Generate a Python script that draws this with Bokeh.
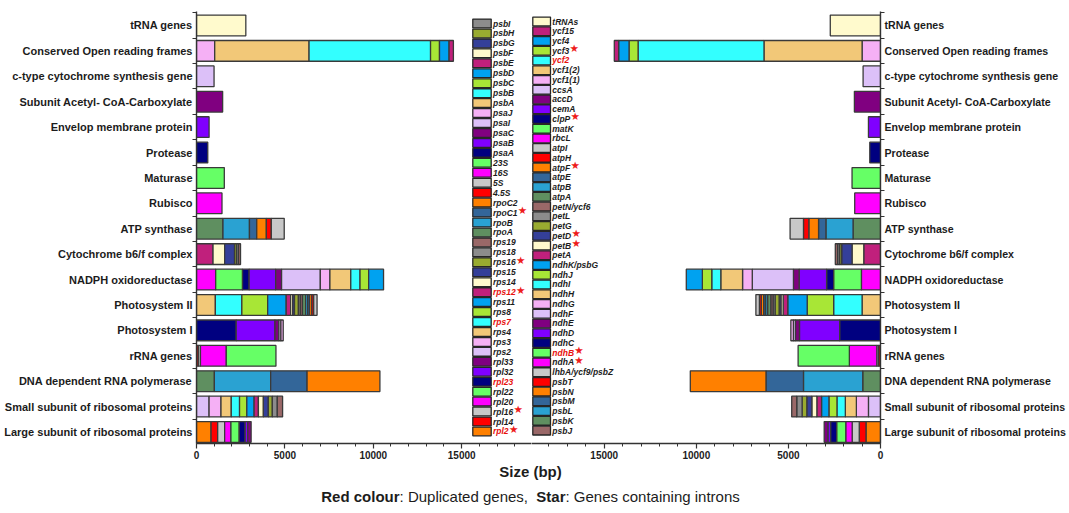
from bokeh.plotting import figure
from bokeh.layouts import column, row
from bokeh.models import Range1d, FixedTicker, ColumnDataSource
from bokeh.core.properties import value
from bokeh.embed import file_html
from bokeh.resources import INLINE

# ---------------------------------------------------------------- data
CATEGORIES = [
    "tRNA genes", "Conserved Open reading frames", "c-type cytochrome synthesis gene",
    "Subunit Acetyl- CoA-Carboxylate", "Envelop membrane protein", "Protease", "Maturase",
    "Rubisco", "ATP synthase", "Cytochrome b6/f complex", "NADPH oxidoreductase",
    "Photosystem II", "Photosystem I", "rRNA genes", "DNA dependent RNA polymerase",
    "Small subunit of ribosomal proteins", "Large subunit of ribosomal proteins",
]

# gene sizes (bp): *_LEFT = left genome, *_RIGHT = right genome
TRNA_GENES = ["tRNAs"]
TRNA_LEFT = [2790]
TRNA_RIGHT = [2727]

ORF_GENES = ["ycf1(1)", "ycf1(2)", "ycf2", "ycf3", "ycf4", "ycf15"]
ORF_LEFT = [1030, 5337, 6873, 506, 543, 243]
ORF_RIGHT = [1000, 5327, 6836, 491, 564, 236]

CCS_GENES = ["ccsA"]
CCS_LEFT = [993]
CCS_RIGHT = [945]

ACC_GENES = ["accD"]
ACC_LEFT = [1479]
ACC_RIGHT = [1418]

CEM_GENES = ["cemA"]
CEM_LEFT = [712]
CEM_RIGHT = [655]

CLP_GENES = ["clpP"]
CLP_LEFT = [637]
CLP_RIGHT = [582]

MAT_GENES = ["matK"]
MAT_LEFT = [1573]
MAT_RIGHT = [1545]

RBC_GENES = ["rbcL"]
RBC_LEFT = [1442]
RBC_RIGHT = [1400]

ATP_GENES = ["atpA", "atpB", "atpE", "atpF", "atpH", "atpI"]
ATP_LEFT = [1498, 1498, 412, 543, 281, 730]
ATP_RIGHT = [1491, 1473, 400, 527, 291, 727]

PET_GENES = ["petA", "petB", "petD", "petG", "petL", "petN/ycf6"]
PET_LEFT = [936, 655, 562, 110, 110, 117]
PET_RIGHT = [909, 636, 564, 110, 110, 125]

NDH_GENES = ["ndhA", "ndhB", "ndhC", "ndhD", "ndhE", "ndhF", "ndhG", "ndhH",
             "ndhI", "ndhJ", "ndhK/psbG"]
NDH_LEFT = [1086, 1517, 375, 1498, 337, 2191, 543, 1180, 524, 487, 843]
NDH_RIGHT = [1036, 1509, 382, 1491, 309, 2236, 527, 1182, 491, 509, 873]

PS2_GENES = ["psbA", "psbB", "psbC", "psbD", "psbE", "psbF", "psbG", "psbH", "psbI",
             "psbJ", "psbK", "psbL", "psbM", "psbN", "psbT", "lhbA/ycf9/psbZ"]
PS2_LEFT = [1067, 1498, 1461, 1049, 250, 120, 100, 220, 110, 120, 180, 115, 105, 130, 105, 190]
PS2_RIGHT = [1000, 1545, 1436, 1055, 250, 120, 100, 220, 110, 120, 175, 110, 105, 130, 100, 190]

PS1_GENES = ["psaA", "psaB", "psaC", "psaI", "psaJ"]
PS1_LEFT = [2247, 2191, 225, 112, 131]
PS1_RIGHT = [2218, 2182, 218, 110, 140]

RRNA_GENES = ["4.5S", "5S", "16S", "23S"]
RRNA_LEFT = [103, 121, 1461, 2809]
RRNA_RIGHT = [100, 100, 1491, 2782]

RPO_GENES = ["rpoA", "rpoB", "rpoC1", "rpoC2"]
RPO_LEFT = [1011, 3184, 2060, 4120]
RPO_RIGHT = [964, 3218, 2036, 4109]

RPS_GENES = ["rps2", "rps3", "rps4", "rps7", "rps8", "rps11", "rps12", "rps14",
             "rps15", "rps16", "rps18", "rps19"]
RPS_LEFT = [712, 674, 581, 468, 412, 412, 243, 281, 281, 225, 281, 300]
RPS_RIGHT = [655, 655, 600, 455, 436, 400, 255, 273, 273, 255, 291, 273]

RPL_GENES = ["rpl2", "rpl14", "rpl16", "rpl20", "rpl22", "rpl23", "rpl32", "rpl33"]
RPL_LEFT = [824, 375, 393, 356, 468, 337, 150, 187]
RPL_RIGHT = [788, 366, 385, 348, 494, 330, 146, 200]

# legend columns, top to bottom
LEGEND_LEFT = ["psbI", "psbH", "psbG", "psbF", "psbE", "psbD", "psbC", "psbB", "psbA",
               "psaJ", "psaI", "psaC", "psaB", "psaA", "23S", "16S", "5S", "4.5S",
               "rpoC2", "rpoC1", "rpoB", "rpoA", "rps19", "rps18", "rps16", "rps15",
               "rps14", "rps12", "rps11", "rps8", "rps7", "rps4", "rps3", "rps2",
               "rpl33", "rpl32", "rpl23", "rpl22", "rpl20", "rpl16", "rpl14", "rpl2"]
LEGEND_RIGHT = ["tRNAs", "ycf15", "ycf4", "ycf3", "ycf2", "ycf1(2)", "ycf1(1)", "ccsA",
                "accD", "cemA", "clpP", "matK", "rbcL", "atpI", "atpH", "atpF", "atpE",
                "atpB", "atpA", "petN/ycf6", "petL", "petG", "petD", "petB", "petA",
                "ndhK/psbG", "ndhJ", "ndhI", "ndhH", "ndhG", "ndhF", "ndhE", "ndhD",
                "ndhC", "ndhB", "ndhA", "lhbA/ycf9/psbZ", "psbT", "psbN", "psbM",
                "psbL", "psbK", "psbJ"]
DUPLICATED = ["ycf2", "ndhB", "rps12", "rps7", "rpl23", "rpl2"]
WITH_INTRONS = ["ycf3", "clpP", "atpF", "petD", "petB", "ndhB", "ndhA", "rpoC1",
                "rps16", "rps12", "rpl16", "rpl2"]

# ---------------------------------------------------------------- styling
PALETTE = ["#ff8000", "#ff0000", "#c8c8c8", "#ff00ff", "#66ff66", "#000080", "#8000ff",
           "#800080", "#dcc0f8", "#f5b0f5", "#f2c878", "#33ffff", "#a8e636", "#00a2f0",
           "#c0207c", "#fffacd", "#343f99", "#99ab30", "#8c8c8c", "#9a6868", "#5f8f60",
           "#2aa2d2", "#336699"]
SERIES = LEGEND_LEFT[::-1] + LEGEND_RIGHT[::-1]
GENE_COLOR = {g: PALETTE[i % len(PALETTE)] for i, g in enumerate(SERIES)}

STACKS = [
    (TRNA_GENES, TRNA_LEFT, TRNA_RIGHT), (ORF_GENES, ORF_LEFT, ORF_RIGHT),
    (CCS_GENES, CCS_LEFT, CCS_RIGHT), (ACC_GENES, ACC_LEFT, ACC_RIGHT),
    (CEM_GENES, CEM_LEFT, CEM_RIGHT), (CLP_GENES, CLP_LEFT, CLP_RIGHT),
    (MAT_GENES, MAT_LEFT, MAT_RIGHT), (RBC_GENES, RBC_LEFT, RBC_RIGHT),
    (ATP_GENES, ATP_LEFT, ATP_RIGHT), (PET_GENES, PET_LEFT, PET_RIGHT),
    (NDH_GENES, NDH_LEFT, NDH_RIGHT), (PS2_GENES, PS2_LEFT, PS2_RIGHT),
    (PS1_GENES, PS1_LEFT, PS1_RIGHT), (RRNA_GENES, RRNA_LEFT, RRNA_RIGHT),
    (RPO_GENES, RPO_LEFT, RPO_RIGHT), (RPS_GENES, RPS_LEFT, RPS_RIGHT),
    (RPL_GENES, RPL_LEFT, RPL_RIGHT),
]

FONT = "Liberation Sans"
INK = "#1c1c1c"
N = len(CATEGORIES)
XMAX = 18950
Y0, Y1 = -0.453, N - 1 + 0.55
FRAME_TOP, FRAME_BOTTOM = 11, 443
L_FRAME = (196, 531)
R_FRAME = (531, 880)
HALF_BAR = 0.408

BOLD_W = {' ': 278, 'a': 556, 'b': 611, 'c': 556, 'd': 611, 'e': 556, 'f': 333, 'g': 611,
          'h': 611, 'i': 278, 'j': 278, 'k': 556, 'l': 278, 'm': 889, 'n': 611, 'o': 611,
          'p': 611, 'q': 611, 'r': 389, 's': 556, 't': 333, 'u': 611, 'v': 556, 'w': 778,
          'x': 556, 'y': 556, 'z': 500, 'A': 722, 'B': 722, 'C': 722, 'D': 722, 'E': 667,
          'F': 611, 'G': 778, 'H': 722, 'I': 278, 'J': 556, 'K': 722, 'L': 611, 'M': 833,
          'N': 722, 'O': 778, 'P': 667, 'R': 722, 'S': 667, 'T': 611, 'Z': 611,
          '(': 333, ')': 333, '/': 278, '.': 278, '-': 333, ':': 333, ',': 278}
REG_W = {' ': 278, 'a': 556, 'b': 556, 'c': 500, 'd': 556, 'e': 556, 'f': 278, 'g': 556,
         'h': 556, 'i': 222, 'j': 222, 'k': 500, 'l': 222, 'm': 833, 'n': 556, 'o': 556,
         'p': 556, 'q': 556, 'r': 333, 's': 500, 't': 278, 'u': 556, 'v': 500, 'w': 722,
         'x': 500, 'y': 500, 'z': 500, 'D': 722, 'G': 778, 'S': 667, 'R': 722,
         ':': 278, ',': 278, '(': 333, ')': 333}


def text_width(s, size, bold=True):
    table = BOLD_W if bold else REG_W
    return sum(table.get(ch, 556) for ch in s) / 1000.0 * size


def y_of(py):
    return Y1 - (py - FRAME_TOP) / (FRAME_BOTTOM - FRAME_TOP) * (Y1 - Y0)


def lx_of(px):
    return (px - L_FRAME[0]) / (L_FRAME[1] - L_FRAME[0]) * XMAX


def rx_of(px):
    return (R_FRAME[1] - px) / (R_FRAME[1] - R_FRAME[0]) * XMAX


def bar_source(side):
    d = dict(left=[], right=[], bottom=[], top=[], color=[], gene=[])
    for r, stack in enumerate(STACKS):
        genes, sizes = stack[0], stack[side]
        yc = N - 1 - r
        start = 0
        for g, v in zip(genes, sizes):
            d["left"].append(start)
            d["right"].append(start + v)
            d["bottom"].append(yc - HALF_BAR)
            d["top"].append(yc + HALF_BAR)
            d["color"].append(GENE_COLOR[g])
            d["gene"].append(g)
            start += v
    return ColumnDataSource(d)


def legend_column(p, names, to_x, sw_left, sw_right, text_left, row0, step):
    lab_size = 8.5
    sq = dict(left=[], right=[], bottom=[], top=[], color=[])
    tx = dict(x=[], y=[], text=[], color=[])
    st = dict(x=[], y=[])
    for i, name in enumerate(names):
        py = row0 + step * i
        sq["left"].append(to_x(sw_left))
        sq["right"].append(to_x(sw_right))
        sq["bottom"].append(y_of(py + 4.4))
        sq["top"].append(y_of(py - 4.4))
        sq["color"].append(GENE_COLOR[name])
        tx["x"].append(to_x(text_left))
        tx["y"].append(y_of(py))
        tx["text"].append(name)
        tx["color"].append("#e8100c" if name in DUPLICATED else INK)
        if name in WITH_INTRONS:
            st["x"].append(to_x(text_left + text_width(name, lab_size) + 0.3))
            st["y"].append(y_of(py - 2.5))
    p.quad(source=ColumnDataSource(sq), left="left", right="right", bottom="bottom",
           top="top", fill_color="color", line_color="#262626", line_width=1.3)
    p.text(source=ColumnDataSource(tx), x="x", y="y", text="text", text_color="color",
           text_font=value(FONT), text_font_size=value(f"{lab_size}px"),
           text_font_style="bold italic", text_baseline="middle", text_align="left")
    p.text(source=ColumnDataSource(st), x="x", y="y", text=value("\u2605"),
           text_color="#ee1c1c", text_font=value("DejaVu Sans"),
           text_font_size=value("10.5px"), text_baseline="middle", text_align="left")


def make_panel(side):
    is_left = side == 1
    common = dict(height=463, y_range=Range1d(Y0, Y1), output_backend="svg",
                  toolbar_location=None, min_border_top=FRAME_TOP,
                  min_border_bottom=463 - FRAME_BOTTOM,
                  background_fill_color="white", border_fill_color="white")
    if is_left:
        p = figure(width=L_FRAME[1], x_range=Range1d(0, XMAX), y_axis_location="left",
                   min_border_left=L_FRAME[0], min_border_right=0, **common)
    else:
        p = figure(width=1069 - R_FRAME[0], x_range=Range1d(XMAX, 0),
                   y_axis_location="right", min_border_left=0,
                   min_border_right=1069 - R_FRAME[1], **common)
    p.outline_line_color = None
    p.grid.visible = False

    p.quad(source=bar_source(side), left="left", right="right", bottom="bottom",
           top="top", fill_color="color", line_color="#3a3a3a", line_width=1.3)

    p.xaxis.ticker = FixedTicker(ticks=[0, 5000, 10000, 15000],
                                 minor_ticks=list(range(0, 19000, 1000)))
    p.yaxis.ticker = FixedTicker(ticks=list(range(N)),
                                 minor_ticks=[k + 0.5 for k in range(-1, N)])
    p.yaxis.major_label_overrides = {N - 1 - r: c for r, c in enumerate(CATEGORIES)}
    for ax in p.axis:
        ax.axis_line_color = "#333333"
        ax.axis_line_width = 1.4
        ax.major_tick_line_color = "#333333"
        ax.minor_tick_line_color = "#333333"
        ax.major_tick_line_width = 1.2
        ax.minor_tick_line_width = 1.0
        ax.major_label_text_font = FONT
        ax.major_label_text_font_style = "bold"
        ax.major_label_text_color = INK
    p.xaxis.major_tick_in = 0
    p.xaxis.major_tick_out = 5
    p.xaxis.minor_tick_in = 0
    p.xaxis.minor_tick_out = 3
    p.xaxis.major_label_text_font_size = "10px"
    p.xaxis.major_label_standoff = 2
    p.yaxis.major_tick_in = 0
    p.yaxis.major_tick_out = 0
    p.yaxis.minor_tick_in = 0
    p.yaxis.minor_tick_out = 4
    p.yaxis.major_label_standoff = 0
    p.yaxis.major_label_text_font_size = "11px" if is_left else "10.6px"

    if is_left:
        legend_column(p, LEGEND_LEFT, lx_of, 472.3, 490.7, 492.5, 23.0, 9.95)
    else:
        legend_column(p, LEGEND_RIGHT, rx_of, 532.3, 550.0, 551.8, 21.0, 9.74)
    return p


left_panel = make_panel(1)
right_panel = make_panel(2)

# footer: shared axis title and note
footer = figure(width=1069, height=50, x_range=Range1d(0, 1069), y_range=Range1d(50, 0),
                output_backend="svg", toolbar_location=None, x_axis_location=None,
                y_axis_location=None, min_border=0, background_fill_color="white",
                border_fill_color="white")
footer.outline_line_color = None
footer.grid.visible = False

CENTER_X = 530
footer.text(x=[CENTER_X], y=[8], text=["Size (bp)"], text_font=value(FONT),
            text_font_size=value("15px"), text_font_style="bold", text_color=INK,
            text_align="center", text_baseline="middle")

NOTE_SIZE = 15
NOTE_PARTS = [("Red colour", True), (": Duplicated genes,", False), ("  ", False),
              ("Star", True), (": Genes containing introns", False)]
total = sum(text_width(t, NOTE_SIZE, b) for t, b in NOTE_PARTS)
xpos = CENTER_X - total / 2
for t, b in NOTE_PARTS:
    if t.strip():
        footer.text(x=[xpos], y=[33], text=[t], text_font=value(FONT),
                    text_font_size=value(f"{NOTE_SIZE}px"),
                    text_font_style="bold" if b else "normal", text_color=INK,
                    text_align="left", text_baseline="middle")
    xpos += text_width(t, NOTE_SIZE, b)

layout = column(row(left_panel, right_panel, spacing=0), footer, spacing=0)

open("out.html", "w").write(file_html(layout, INLINE))
